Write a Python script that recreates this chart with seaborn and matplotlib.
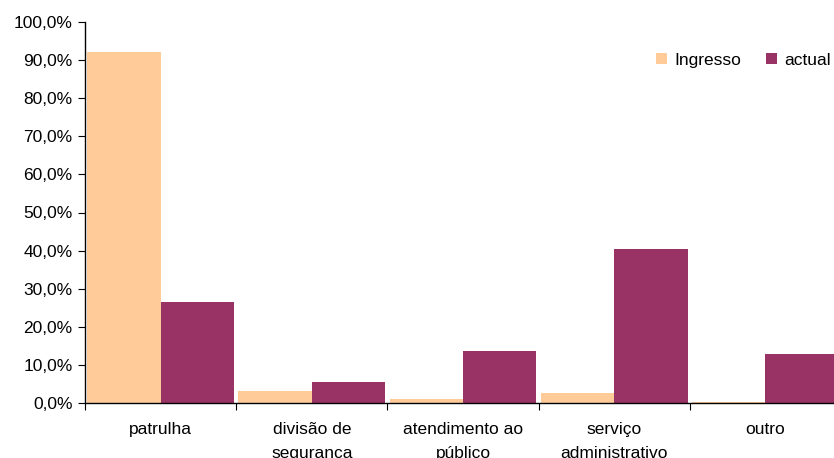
import pandas as pd
import matplotlib
matplotlib.use("Agg")
import matplotlib.pyplot as plt
from matplotlib.ticker import FuncFormatter, FixedLocator
import seaborn as sns

# data (percent)
categories = ["patrulha", "divisão de\nsegurança", "atendimento ao\npúblico",
              "serviço\nadministrativo", "outro"]
ingresso = [92.0, 3.1, 1.0, 2.6, 0.3]
actual = [26.5, 5.5, 13.6, 40.4, 12.9]
series_names = ["Ingresso", "actual"]
colors = ["#FFCC99", "#993366"]

df = pd.DataFrame({
    "categoria": categories * 2,
    "serie": [series_names[0]] * len(categories) + [series_names[1]] * len(categories),
    "valor": ingresso + actual,
})

sns.set_theme(style="white")
plt.rcParams["font.family"] = ["Liberation Sans", "DejaVu Sans"]

fig = plt.figure(figsize=(8.34, 4.58), dpi=100)
ax = fig.add_axes([85 / 834, 55 / 458, 756 / 834, 381 / 458])

sns.barplot(data=df, x="categoria", y="valor", hue="serie", order=categories,
            hue_order=series_names, palette=colors, width=0.97, gap=0,
            saturation=1, linewidth=0, ax=ax)

ax.set_xlim(-0.5, 4.5)
ax.set_ylim(0, 100)
ax.set_xlabel("")
ax.set_ylabel("")

fs = 12.5
ax.yaxis.set_major_locator(FixedLocator(range(0, 101, 10)))
ax.yaxis.set_major_formatter(FuncFormatter(lambda v, p: f"{v:.1f}%".replace(".", ",")))

# ticks at category boundaries, labels centred on the groups
ax.xaxis.set_major_locator(FixedLocator([i - 0.5 for i in range(len(categories) + 1)]))
ax.xaxis.set_major_formatter(FuncFormatter(lambda v, p: ""))
ax.xaxis.set_minor_locator(FixedLocator(range(len(categories))))
ax.set_xticklabels(categories, minor=True)
ax.tick_params(axis="x", which="major", length=5, width=0.8, direction="out", bottom=True, color="black")
ax.tick_params(axis="x", which="minor", length=0, labelsize=fs, pad=14)
ax.tick_params(axis="y", length=5, width=0.8, direction="out", left=True, labelsize=fs, pad=4, color="black")
for lab in ax.get_xticklabels(minor=True):
    lab.set_linespacing(1.75)
    lab.set_color("black")
for lab in ax.get_yticklabels():
    lab.set_color("black")

sns.despine(ax=ax, top=True, right=True)
for side in ["left", "bottom"]:
    ax.spines[side].set_color("black")
    ax.spines[side].set_linewidth(1.0)

leg = ax.legend(loc="upper right", bbox_to_anchor=(1.007, 0.96), ncol=2, frameon=False,
                fontsize=fs, handlelength=0.63, handleheight=0.63, handletextpad=0.4,
                columnspacing=1.45)
for t in leg.get_texts():
    t.set_color("black")

fig.savefig("out.png", dpi=100)
